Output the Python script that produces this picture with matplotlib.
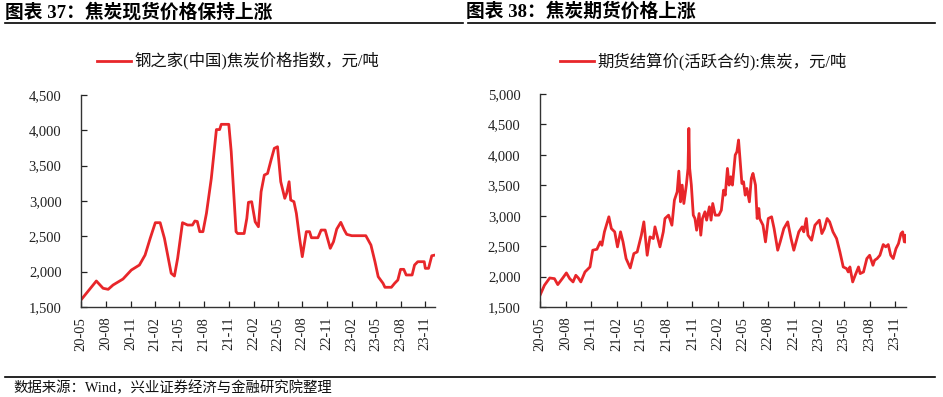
import matplotlib
matplotlib.use("Agg")
import matplotlib.pyplot as plt
import matplotlib.dates as mdates
from matplotlib.lines import Line2D
import numpy as np
import pandas as pd

# ---------------- data ----------------
spot_dates = ["2020-05-01","2020-06-27","2020-07-22","2020-08-10","2020-08-28","2020-10-04","2020-11-04",
    "2020-12-04","2020-12-25","2021-01-13","2021-02-01","2021-02-19","2021-03-07","2021-04-01","2021-04-13",
    "2021-04-25","2021-05-13","2021-06-01","2021-06-19","2021-06-28","2021-07-07","2021-07-16","2021-07-28",
    "2021-08-10","2021-08-28","2021-09-10","2021-09-16","2021-09-28","2021-10-04","2021-11-01","2021-11-10",
    "2021-11-28","2021-12-04","2021-12-28","2022-01-07","2022-01-13","2022-01-25","2022-02-07","2022-02-19",
    "2022-03-01","2022-03-13","2022-03-25","2022-04-07","2022-04-19","2022-05-01","2022-05-13","2022-05-28",
    "2022-06-04","2022-06-13","2022-06-19","2022-07-01","2022-07-10","2022-07-22","2022-08-01","2022-08-10",
    "2022-08-16","2022-08-28","2022-09-04","2022-09-28","2022-10-10","2022-10-25","2022-11-13","2022-11-25",
    "2022-12-07","2022-12-22","2023-01-04","2023-01-13","2023-02-01","2023-03-25","2023-04-13","2023-04-28",
    "2023-05-10","2023-05-28","2023-06-04","2023-06-28","2023-07-10","2023-07-22","2023-08-01","2023-08-13",
    "2023-08-22","2023-09-13","2023-09-22","2023-10-04","2023-10-28","2023-11-01","2023-11-13","2023-11-25",
    "2023-12-07"]
spot_values = [1600,1868,1765,1750,1811,1896,2023,
    2094,2235,2471,2693,2693,2471,1977,1938,
    2189,2693,2660,2660,2717,2710,2566,2566,
    2826,3318,3790,4011,4011,4085,4085,3698,
    2566,2540,2540,2755,2981,2990,2706,2636,
    3131,3367,3390,3580,3745,3768,3273,3038,
    3109,3273,3014,2990,2826,2471,2212,2424,
    2566,2566,2480,2480,2589,2589,2330,2424,
    2603,2698,2589,2528,2509,2509,2377,2141,
    1929,1835,1779,1779,1835,1882,2033,2033,
    1953,1953,2094,2141,2141,2047,2047,2225,
    2235]

fut_dates = ["2020-05-01","2020-05-17","2020-06-05","2020-06-22","2020-07-04","2020-07-22","2020-08-04",
    "2020-08-16","2020-08-28","2020-09-07","2020-09-16","2020-09-25","2020-10-10","2020-10-28","2020-11-07",
    "2020-11-22","2020-12-04","2020-12-10","2020-12-19","2021-01-04","2021-01-13","2021-01-25","2021-02-04",
    "2021-02-15","2021-02-24","2021-03-07","2021-03-22","2021-04-04","2021-04-16","2021-05-01","2021-05-10",
    "2021-05-22","2021-06-01","2021-06-13","2021-06-19","2021-07-07","2021-07-19","2021-07-25","2021-08-07",
    "2021-08-19","2021-08-28","2021-09-07","2021-09-13","2021-09-19","2021-09-25","2021-10-01","2021-10-10",
    "2021-10-16","2021-10-19","2021-10-22","2021-10-28","2021-11-04","2021-11-10","2021-11-16","2021-11-25",
    "2021-12-01","2021-12-07","2021-12-16","2021-12-22","2022-01-01","2022-01-07","2022-01-13","2022-01-22",
    "2022-02-04","2022-02-13","2022-02-21","2022-02-27","2022-03-07","2022-03-13","2022-03-19","2022-03-25",
    "2022-04-04","2022-04-10","2022-04-16","2022-04-22","2022-04-28","2022-05-04","2022-05-10","2022-05-16",
    "2022-05-25","2022-06-01","2022-06-07","2022-06-16","2022-06-22","2022-06-28","2022-07-01","2022-07-13",
    "2022-07-22","2022-08-01","2022-08-13","2022-08-22","2022-09-04","2022-09-13","2022-09-26","2022-10-10",
    "2022-10-22","2022-11-01","2022-11-19","2022-12-01","2022-12-07","2022-12-16","2022-12-22","2023-01-04",
    "2023-01-16","2023-02-01","2023-02-10","2023-02-19","2023-03-01","2023-03-10","2023-03-22","2023-04-04",
    "2023-04-16","2023-04-28","2023-05-10","2023-05-16","2023-05-22","2023-06-01","2023-06-10","2023-06-22",
    "2023-06-28","2023-07-10","2023-07-22","2023-08-01","2023-08-13","2023-08-19","2023-08-28","2023-09-07",
    "2023-09-19","2023-09-28","2023-10-07","2023-10-16","2023-10-25","2023-11-04","2023-11-13","2023-11-22",
    "2023-11-28","2023-12-04","2023-12-07","2023-12-10"]
fut_values = [1692,1857,1977,1966,1868,1977,2060,
    1966,1912,2021,1977,1912,2076,2158,2433,
    2449,2570,2515,2735,2982,2789,2735,2488,
    2735,2570,2296,2142,2378,2405,2680,2899,
    2350,2652,2625,2817,2488,2735,2954,3009,
    2844,3256,3393,3733,3228,3503,3201,3503,
    3777,4435,3777,3503,3009,2954,2762,3036,
    2680,2954,3064,2927,3146,2927,3201,3009,
    3009,3091,3420,3338,3777,3503,3640,3503,
    3997,4051,4244,3887,3530,3558,3338,3448,
    3228,3613,3695,3503,2954,3119,2954,2844,
    2570,2954,2982,2789,2433,2570,2789,2899,
    2625,2433,2735,2817,2735,2954,2680,2597,
    2844,2927,2707,2789,2954,2899,2735,2625,
    2405,2158,2131,2076,2158,1912,2021,2158,
    2049,2076,2296,2350,2186,2268,2296,2350,
    2526,2488,2526,2350,2296,2460,2543,2707,
    2735,2570,2680,2570]

tick_dates = ["2020-05-01","2020-08-01","2020-11-01","2021-02-01","2021-05-01","2021-08-01","2021-11-01",
    "2022-02-01","2022-05-01","2022-08-01","2022-11-01","2023-02-01","2023-05-01","2023-08-01","2023-11-01"]
tick_labels = ["20-05","20-08","20-11","21-02","21-05","21-08","21-11",
    "22-02","22-05","22-08","22-11","23-02","23-05","23-08","23-11"]

left_yticks = [1500, 2000, 2500, 3000, 3500, 4000, 4500]
right_yticks = [1500, 2000, 2500, 3000, 3500, 4000, 4500, 5000]

title_left = "图表 37：焦炭现货价格保持上涨"
title_right = "图表 38：焦炭期货价格上涨"
legend_left = "钢之家(中国)焦炭价格指数，元/吨"
legend_right = "期货结算价(活跃合约):焦炭，元/吨"
footer = "数据来源：Wind，兴业证券经济与金融研究院整理"

# ---------------- style ----------------
RED = "#E8262A"
SERIF = ["Liberation Serif", "Noto Sans CJK SC"]
plt.rcParams["font.family"] = SERIF

W, H = 943, 397
fig = plt.figure(figsize=(W / 100, H / 100), dpi=100)

def fx(px):
    return px / W

def fy(py):
    return 1 - py / H

def panel(rect, dates, values, yticks, legend_text, legend_x0):
    ax = fig.add_axes(rect)
    d = pd.to_datetime(dates)
    ax.plot(d, values, color=RED, lw=2.0, solid_joinstyle="round")
    ax.set_xlim(d[0], d[-1])
    ax.set_ylim(yticks[0], yticks[-1])
    ax.set_yticks(yticks)
    ax.set_yticklabels([f"{v:,}" for v in yticks], fontsize=10.5, family=SERIF)
    ax.set_xticks(pd.to_datetime(tick_dates))
    ax.set_xticklabels(tick_labels, rotation=90, fontsize=10.5, family=SERIF)
    ax.tick_params(axis="y", direction="in", length=4, width=0.9, pad=14, colors="#222222")
    ax.tick_params(axis="x", direction="in", length=4, width=0.9, pad=7, colors="#222222")
    for s in ("top", "right"):
        ax.spines[s].set_visible(False)
    for s in ("left", "bottom"):
        ax.spines[s].set_color("#333333")
        ax.spines[s].set_linewidth(1.0)
    # legend
    fig.add_artist(Line2D([fx(legend_x0), fx(legend_x0 + 34)], [fy(61), fy(61)], color=RED, lw=2.0))
    fig.text(fx(legend_x0 + 37), fy(61), legend_text, fontsize=11.8, family=SERIF, va="center", ha="left",
             color="#111111")
    return ax

panel([fx(81), fy(307), fx(435) - fx(81), fy(95) - fy(307)], spot_dates, spot_values, left_yticks,
      legend_left, 97)
panel([fx(540), fy(307), fx(906) - fx(540), fy(94) - fy(307)], fut_dates, fut_values, right_yticks,
      legend_right, 560)

# titles
fig.text(fx(5), fy(12), title_left, fontsize=13.5, fontweight="bold", family=SERIF, va="center", ha="left")
fig.text(fx(466), fy(12), title_right, fontsize=13.5, fontweight="bold", family=SERIF, va="center", ha="left")
fig.add_artist(Line2D([fx(5), fx(463)], [fy(23), fy(23)], color="black", lw=1.2))
fig.add_artist(Line2D([fx(468), fx(935)], [fy(23), fy(23)], color="black", lw=1.2))

# footer
fig.add_artist(Line2D([fx(5), fx(935)], [fy(377), fy(377)], color="black", lw=1.2))
fig.text(fx(13), fy(388), footer, fontsize=10.4, family=SERIF, va="center", ha="left", color="#111111")

fig.savefig("out.png", dpi=100)
